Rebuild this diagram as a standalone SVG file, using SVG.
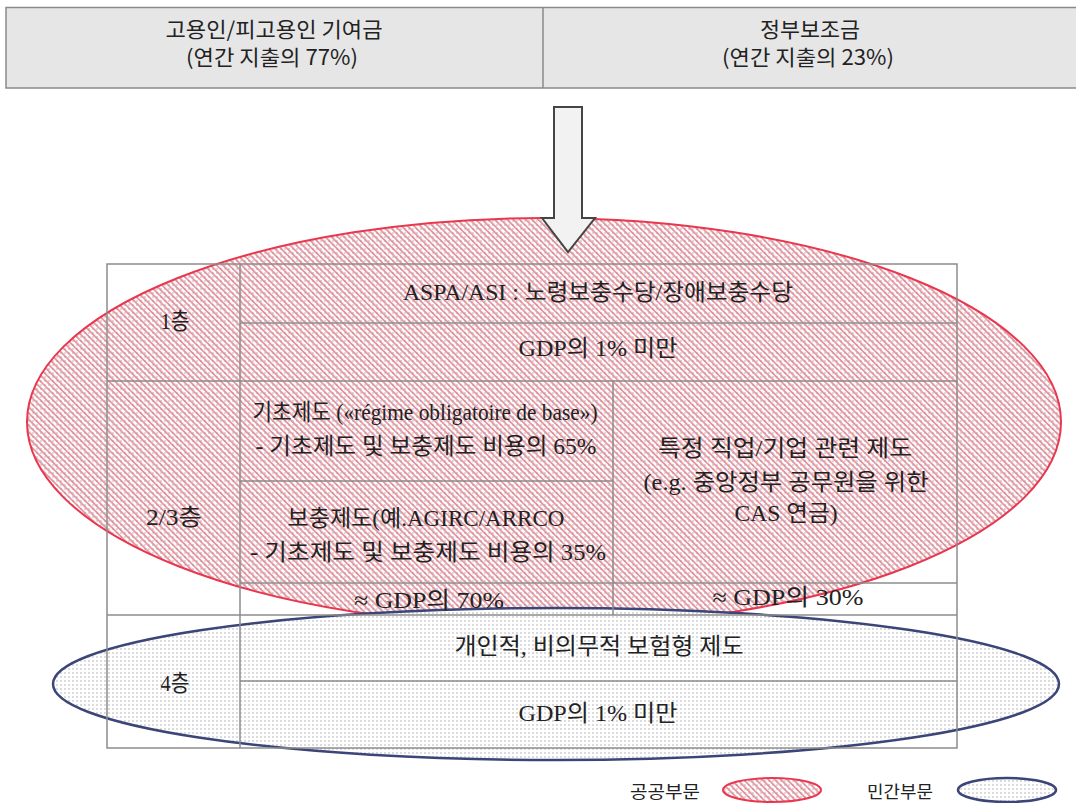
<svg xmlns="http://www.w3.org/2000/svg" width="1076" height="803" viewBox="0 0 1076 803">
<defs>
<pattern id="hatch" patternUnits="userSpaceOnUse" width="4.4" height="4.4" patternTransform="rotate(-45)">
<rect width="4.4" height="4.4" fill="#ffffff"/>
<rect x="0" y="0" width="1.9" height="4.4" fill="#ec98a2"/>
</pattern>
<pattern id="dots" patternUnits="userSpaceOnUse" width="4" height="4">
<circle cx="1" cy="1" r="0.65" fill="#9a9aa4"/>
</pattern>
<pattern id="dotsBg" patternUnits="userSpaceOnUse" width="4" height="4">
<rect width="4" height="4" fill="#ffffff"/>
<circle cx="1" cy="1" r="0.65" fill="#9a9aa4"/>
</pattern>
</defs>
<style>
.hdr{fill:#e6e6e6;stroke:#8a8a8a;stroke-width:1.5}
.ht{font-family:"Noto Sans CJK KR","Liberation Sans",sans-serif;font-size:21px;fill:#222;text-anchor:middle}
.tl{stroke:#8c8c8c;stroke-width:1.5;fill:none}
.t{font-family:"Liberation Serif","Noto Sans CJK KR",serif;font-size:23px;fill:#222;text-anchor:middle}
.lg{font-family:"Noto Sans CJK KR",sans-serif;font-size:17px;fill:#222;text-anchor:middle}
.pub{stroke:#e8374f;stroke-width:2}
.pri{stroke:#3b4577;stroke-width:2.5}
</style>

<g id="header">
<rect class="hdr" x="6" y="7.5" width="1076" height="80.5"/>
<line class="hdr" x1="543" y1="7.5" x2="543" y2="88"/>
<text class="ht" x="274" y="37" textLength="217" lengthAdjust="spacingAndGlyphs">고용인/피고용인 기여금</text>
<text class="ht" x="272" y="65" textLength="172" lengthAdjust="spacingAndGlyphs">(연간 지출의 77%)</text>
<text class="ht" x="810" y="37" textLength="100" lengthAdjust="spacingAndGlyphs">정부보조금</text>
<text class="ht" x="808" y="65" textLength="172" lengthAdjust="spacingAndGlyphs">(연간 지출의 23%)</text>
</g>

<g id="public-sector">
<ellipse cx="544" cy="422" rx="517" ry="204" fill="url(#hatch)"/>
<ellipse cx="544" cy="422" rx="517" ry="204" fill="url(#dots)" class="pub"/>
</g>

<g id="private-sector">
<ellipse cx="556" cy="684" rx="503" ry="76" fill="url(#dotsBg)" class="pri"/>
</g>

<g id="connectors">
<polygon points="554,107 582,107 582,218 595,218 568,252 542,218 554,218" fill="#f2f2f2" stroke="#454545" stroke-width="2" stroke-linejoin="miter"/>
</g>

<g id="table-grid">
<rect class="tl" x="107" y="264" width="850" height="484"/>
<line class="tl" x1="240" y1="264" x2="240" y2="748"/>
<line class="tl" x1="240" y1="323" x2="957" y2="323"/>
<line class="tl" x1="107" y1="381" x2="957" y2="381"/>
<line class="tl" x1="613" y1="381" x2="613" y2="615"/>
<line class="tl" x1="240" y1="481" x2="613" y2="481"/>
<line class="tl" x1="240" y1="583" x2="957" y2="583"/>
<line class="tl" x1="107" y1="615" x2="957" y2="615"/>
<line class="tl" x1="240" y1="681" x2="957" y2="681"/>
</g>

<g id="tier1">
<text class="t" x="175" y="329" textLength="29" lengthAdjust="spacingAndGlyphs">1층</text>
<text class="t" x="598" y="300" textLength="390" lengthAdjust="spacingAndGlyphs">ASPA/ASI : 노령보충수당/장애보충수당</text>
<text class="t" x="598" y="356" textLength="159" lengthAdjust="spacingAndGlyphs">GDP의 1% 미만</text>
</g>

<g id="tier23">
<text class="t" x="174" y="525" textLength="56" lengthAdjust="spacingAndGlyphs">2/3층</text>
<text class="t" x="425" y="420" textLength="345" lengthAdjust="spacingAndGlyphs">기초제도 («régime obligatoire de base»)</text>
<text class="t" x="426" y="454" textLength="341" lengthAdjust="spacingAndGlyphs">- 기초제도 및 보충제도 비용의 65%</text>
<text class="t" x="426" y="526" textLength="277" lengthAdjust="spacingAndGlyphs">보충제도(예.AGIRC/ARRCO</text>
<text class="t" x="428" y="560" textLength="356" lengthAdjust="spacingAndGlyphs">- 기초제도 및 보충제도 비용의 35%</text>
<text class="t" x="429" y="608" textLength="150" lengthAdjust="spacingAndGlyphs">≈ GDP의 70%</text>
<text class="t" x="785" y="456" textLength="254" lengthAdjust="spacingAndGlyphs">특정 직업/기업 관련 제도</text>
<text class="t" x="786" y="490" textLength="285" lengthAdjust="spacingAndGlyphs">(e.g. 중앙정부 공무원을 위한</text>
<text class="t" x="786" y="521" textLength="103" lengthAdjust="spacingAndGlyphs">CAS 연금)</text>
<text class="t" x="788" y="605" textLength="151" lengthAdjust="spacingAndGlyphs">≈ GDP의 30%</text>
</g>

<g id="tier4">
<text class="t" x="175" y="691" textLength="29" lengthAdjust="spacingAndGlyphs">4층</text>
<text class="t" x="599" y="654" textLength="289" lengthAdjust="spacingAndGlyphs">개인적, 비의무적 보험형 제도</text>
<text class="t" x="598" y="721" textLength="159" lengthAdjust="spacingAndGlyphs">GDP의 1% 미만</text>
</g>

<g id="legend">
<text class="lg" x="665" y="798" textLength="70" lengthAdjust="spacingAndGlyphs">공공부문</text>
<ellipse cx="772" cy="790" rx="49" ry="12" fill="url(#hatch)"/>
<ellipse cx="772" cy="790" rx="49" ry="12" fill="url(#dots)" class="pub"/>
<text class="lg" x="900" y="798" textLength="66" lengthAdjust="spacingAndGlyphs">민간부문</text>
<ellipse cx="1007" cy="790" rx="49" ry="12" fill="url(#dotsBg)" class="pri"/>
</g>
</svg>
